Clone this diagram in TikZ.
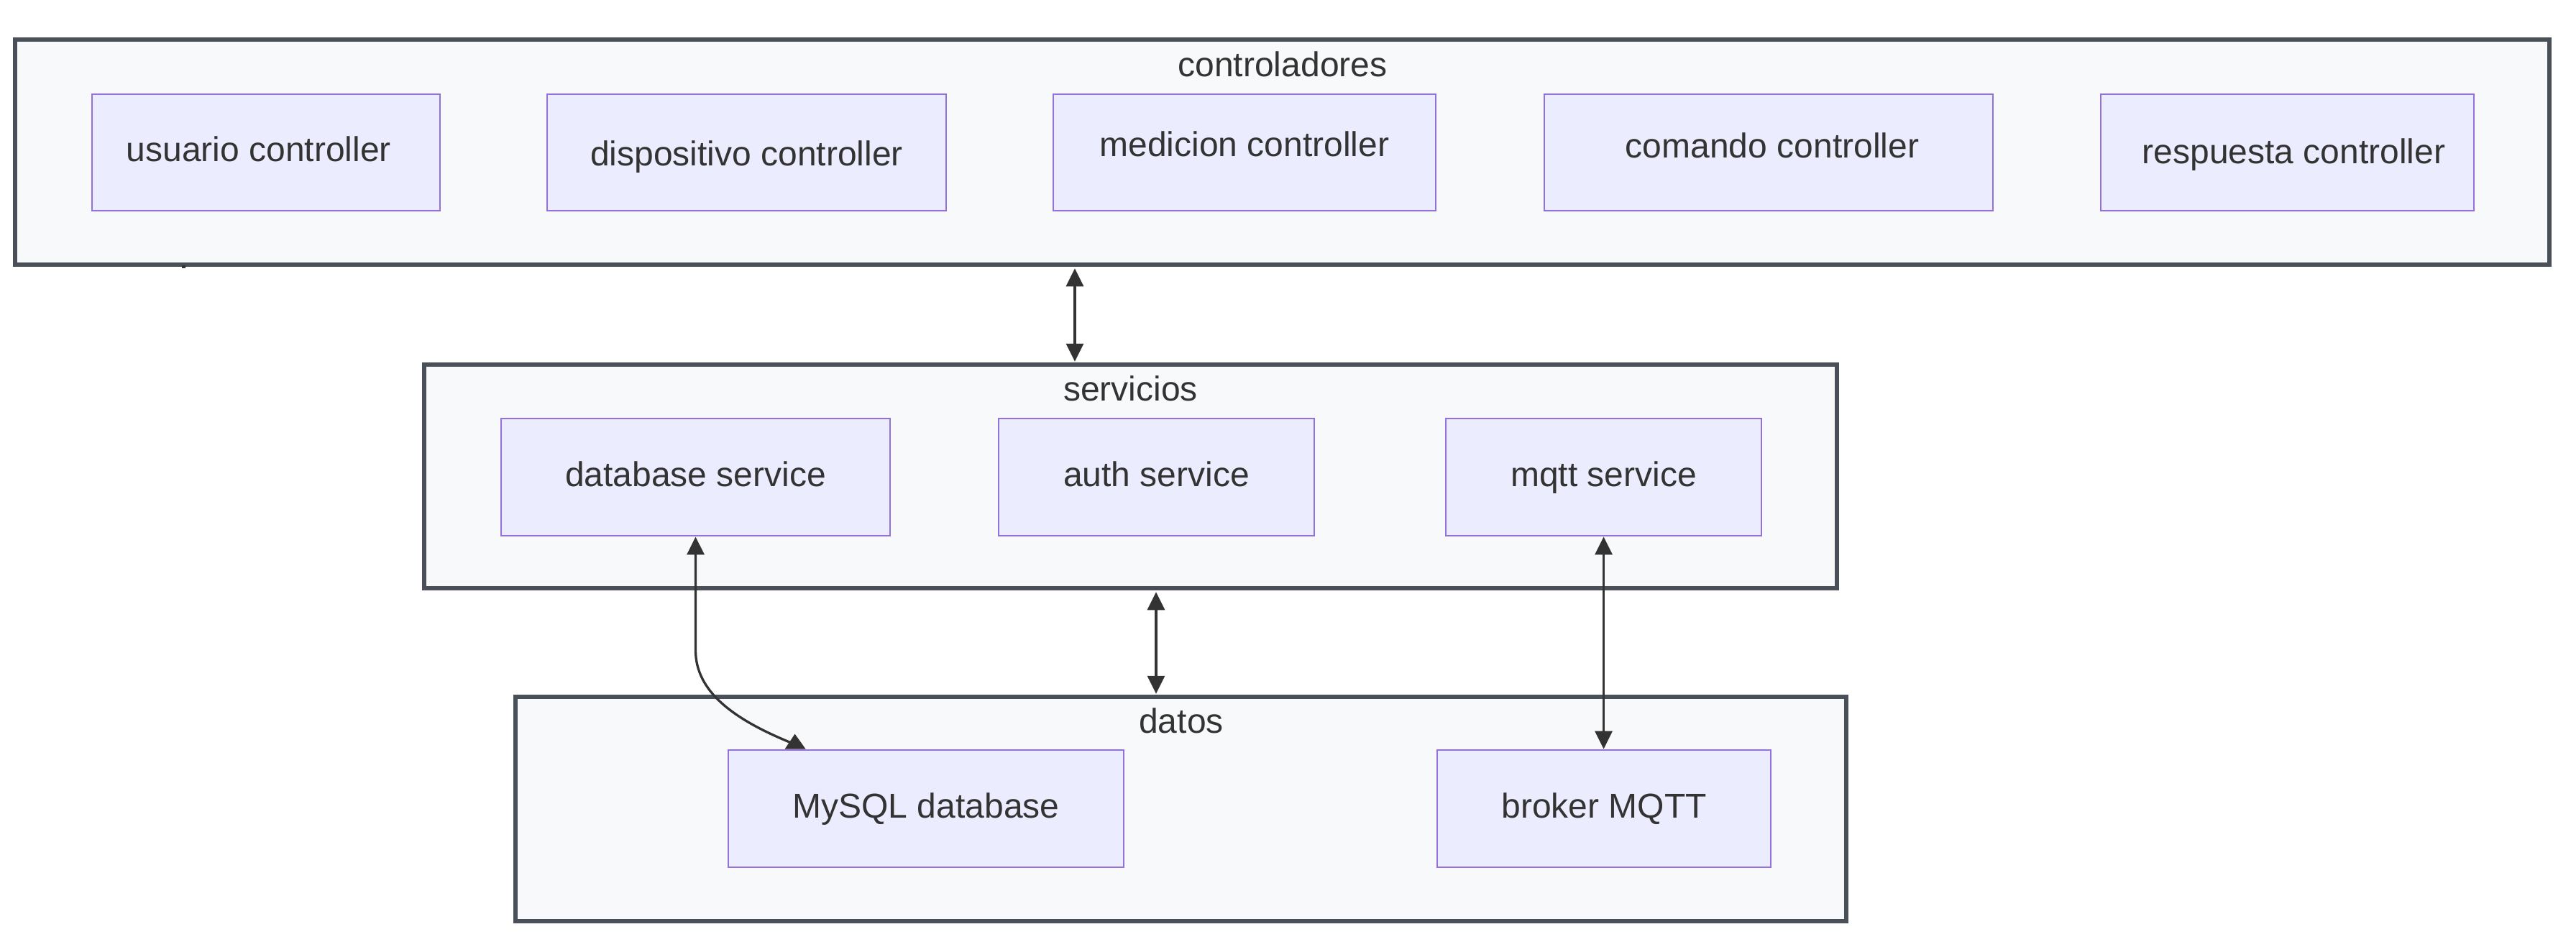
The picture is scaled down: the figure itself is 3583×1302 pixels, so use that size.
\documentclass[tikz,border=0pt]{standalone}
\usepackage{fontspec}
\newfontfamily\lab{Liberation Sans}
\usetikzlibrary{arrows.meta,calc}
\definecolor{clfill}{HTML}{F8F9FA}
\definecolor{clstroke}{HTML}{495057}
\definecolor{nodefill}{HTML}{ECECFF}
\definecolor{nodestroke}{HTML}{9370DB}
\definecolor{txt}{HTML}{333333}
\definecolor{arrowc}{HTML}{333333}
\tikzset{
  cluster/.style={draw=clstroke, fill=clfill, line width=5.5pt, inner sep=0pt, rectangle},
  box/.style={draw=nodestroke, fill=nodefill, line width=2.8pt, inner sep=0pt, rectangle,
    text=txt, font=\lab\fontsize{48pt}{58pt}\selectfont, text height=35pt, text depth=10pt},
  ttl/.style={anchor=base, inner sep=0pt, text=txt, font=\lab\fontsize{48pt}{58pt}\selectfont},
  tipm/.tip={Triangle[length=25pt,width=24pt]},
  conn/.style={draw=arrowc, line width=3.3pt},
}
\begin{document}
\begin{tikzpicture}[x=1pt,y=-1pt]
\useasboundingbox[fill=white] (0,0) rectangle (3583,1302);

% clusters
\node[cluster, minimum width=3525pt, minimum height=313pt] (ctl) at (1783.3,211.5) {};
\node[ttl] (ctlT) at (1784,106) {controladores};
\node[cluster, minimum width=1965pt, minimum height=311pt] (srv) at (1572.5,662.5) {};
\node[ttl] (srvT) at (1572.5,557) {servicios};
\node[cluster, minimum width=1851pt, minimum height=312pt] (dat) at (1642.5,1125) {};
\node[ttl] (datT) at (1643,1019) {datos};

% controladores
\node[box, minimum width=484pt, minimum height=162pt] (usuario) at (370,212) {usuario controller\kern20pt};
\node[box, minimum width=555pt, minimum height=162pt] (dispositivo) at (1038.5,212) {\raisebox{-5.5pt}{dispositivo controller}};
\node[box, minimum width=532pt, minimum height=162pt] (medicion) at (1731,212) {\raisebox{7.5pt}{medicion controller}};
\node[box, minimum width=624pt, minimum height=162pt] (comando) at (2460,212) {\raisebox{5.5pt}{\kern10pt comando controller}};
\node[box, minimum width=519pt, minimum height=162pt] (respuesta) at (3181.5,212) {\raisebox{-2.5pt}{\kern18pt respuesta controller}};

% servicios
\node[box, minimum width=541pt, minimum height=163pt] (dbs) at (967.5,663.5) {database service};
\node[box, minimum width=439pt, minimum height=163pt] (auth) at (1608.5,663.5) {auth service};
\node[box, minimum width=439pt, minimum height=163pt] (mqtts) at (2230.5,663.5) {mqtt service};

% datos
\node[box, minimum width=550pt, minimum height=163pt] (mysql) at (1288,1124.5) {MySQL database};
\node[box, minimum width=464pt, minimum height=163pt] (broker) at (2231,1124.5) {broker MQTT};

% connectors
\coordinate (ax) at (1495,0);
\coordinate (bx) at (1608,0);
\draw[conn, tipm-tipm, shorten <=2.5pt, shorten >=1.5pt] (ctl.south -| ax) -- (srv.north -| ax);
\draw[conn, tipm-tipm, shorten <=2.5pt, shorten >=1.5pt] (srv.south -| bx) -- (dat.north -| bx);
\draw[conn, tipm-tipm] (mqtts.south) -- (broker.north -| mqtts.south);
\coordinate (mend) at ($(mysql.north west)+(88,-9)$);
\draw[conn, tipm-] (dbs.south) -- ++(0,158) .. controls ++(0,57) and (1020,1000) .. (mend);
\fill[arrowc] ($(mysql.north west)+(94,-21)$) -- ($(mysql.north west)+(109,0)$) -- ($(mysql.north west)+(80,0)$) -- cycle;

% small mark under the top cluster
\fill[arrowc] (253,369) rectangle (258,373);
\end{tikzpicture}
\end{document}
